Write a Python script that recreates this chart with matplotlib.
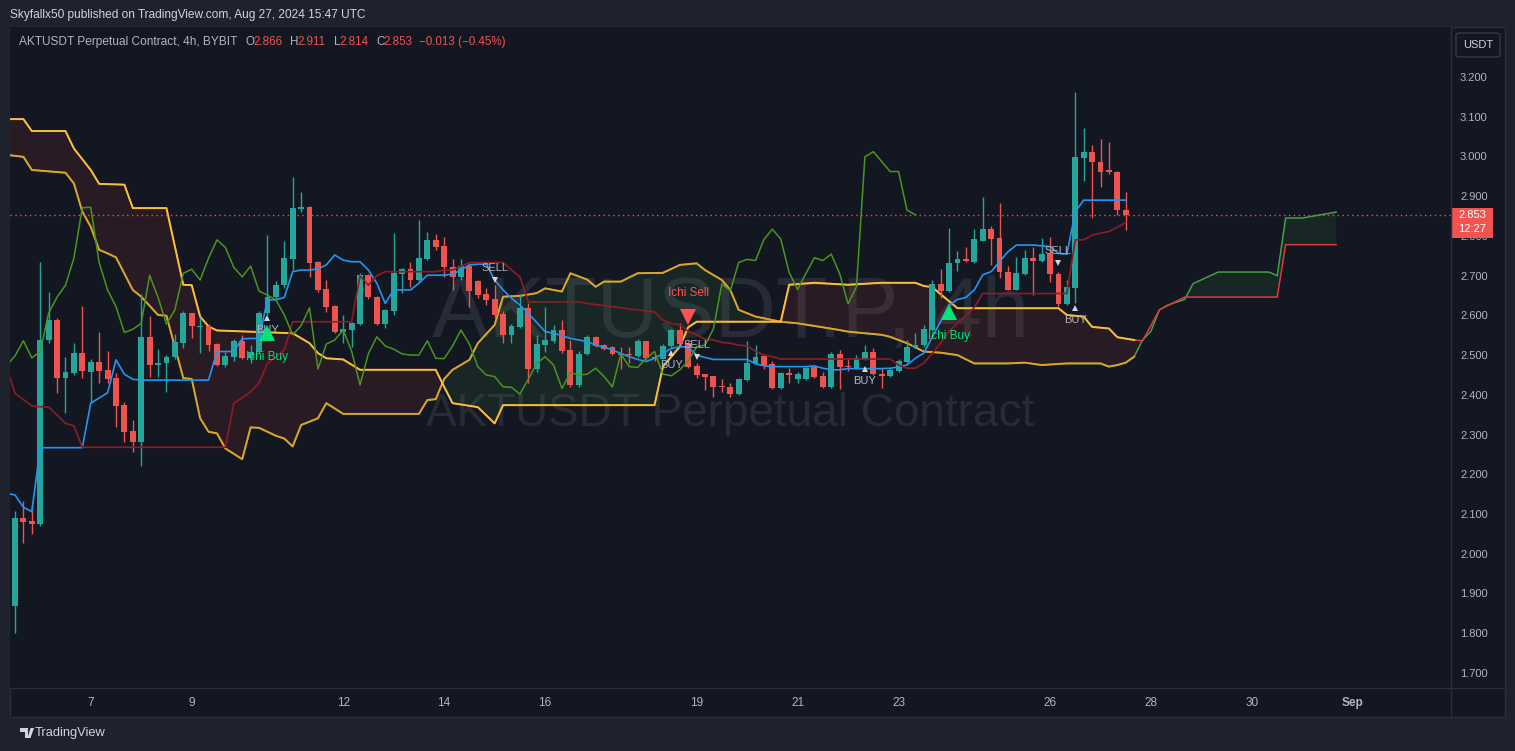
import matplotlib
matplotlib.use("Agg")
import matplotlib.pyplot as plt
import numpy as np
from matplotlib.patches import Rectangle, FancyBboxPatch, Polygon
from matplotlib.lines import Line2D
import matplotlib.transforms as mtransforms

plt.rcParams['font.family'] = ['Liberation Sans', 'DejaVu Sans']

# ---------------- data (AKTUSDT.P 4h, first candle Aug 5 12:00) ----------------
opens = [1.869, 2.089, 2.083, 2.076, 2.537, 2.588, 2.443, 2.455, 2.505, 2.457,
         2.483, 2.462, 2.442, 2.374, 2.309, 2.282, 2.546, 2.474, 2.479, 2.494,
         2.530, 2.606, 2.571, 2.573, 2.528, 2.474, 2.496, 2.536, 2.492, 2.509,
         2.606, 2.645, 2.676, 2.742, 2.868, 2.874, 2.735, 2.666, 2.624, 2.557,
         2.563, 2.578, 2.701, 2.645, 2.578, 2.612, 2.705, 2.716, 2.689, 2.741,
         2.790, 2.775, 2.721, 2.697, 2.724, 2.687, 2.654, 2.641, 2.604, 2.551,
         2.570, 2.619, 2.465, 2.525, 2.536, 2.563, 2.513, 2.425, 2.504, 2.545,
         2.525, 2.520, 2.504, 2.504, 2.498, 2.536, 2.496, 2.491, 2.523, 2.563,
         2.530, 2.473, 2.452, 2.447, 2.422, 2.419, 2.402, 2.437, 2.479, 2.498,
         2.478, 2.416, 2.456, 2.439, 2.439, 2.469, 2.447, 2.420, 2.503, 2.473,
         2.468, 2.490, 2.509, 2.452, 2.448, 2.460, 2.483, 2.521, 2.525, 2.563,
         2.679, 2.662, 2.731, 2.741, 2.735, 2.788, 2.817, 2.794, 2.708, 2.665,
         2.704, 2.745, 2.738, 2.754, 2.705, 2.629, 2.670, 2.997, 3.012, 2.987,
         2.963, 2.962, 2.866]
highs = [2.108, 2.133, 2.123, 2.735, 2.659, 2.594, 2.495, 2.530, 2.624, 2.490,
         2.558, 2.510, 2.454, 2.383, 2.337, 2.654, 2.598, 2.515, 2.500, 2.553,
         2.611, 2.606, 2.597, 2.578, 2.530, 2.507, 2.541, 2.550, 2.525, 2.610,
         2.802, 2.686, 2.787, 2.949, 2.910, 2.876, 2.738, 2.689, 2.626, 2.601,
         2.583, 2.706, 2.705, 2.648, 2.617, 2.807, 2.720, 2.735, 2.840, 2.811,
         2.805, 2.798, 2.741, 2.741, 2.731, 2.690, 2.668, 2.676, 2.610, 2.578,
         2.655, 2.632, 2.551, 2.620, 2.576, 2.588, 2.538, 2.510, 2.551, 2.548,
         2.527, 2.523, 2.521, 2.520, 2.541, 2.536, 2.504, 2.528, 2.565, 2.580,
         2.536, 2.479, 2.452, 2.447, 2.439, 2.429, 2.442, 2.536, 2.525, 2.503,
         2.486, 2.458, 2.467, 2.458, 2.471, 2.472, 2.458, 2.507, 2.513, 2.492,
         2.500, 2.525, 2.517, 2.467, 2.465, 2.490, 2.538, 2.555, 2.576, 2.689,
         2.716, 2.819, 2.762, 2.771, 2.817, 2.898, 2.824, 2.884, 2.724, 2.748,
         2.765, 2.771, 2.794, 2.797, 2.710, 2.689, 3.161, 3.072, 3.030, 3.044,
         3.037, 2.963, 2.911]
lows = [1.800, 2.027, 2.050, 2.070, 2.530, 2.404, 2.355, 2.450, 2.443, 2.380,
        2.430, 2.430, 2.320, 2.282, 2.255, 2.220, 2.444, 2.446, 2.406, 2.490,
        2.517, 2.542, 2.505, 2.510, 2.472, 2.470, 2.486, 2.490, 2.479, 2.505,
        2.600, 2.640, 2.670, 2.714, 2.860, 2.697, 2.660, 2.609, 2.555, 2.530,
        2.521, 2.575, 2.640, 2.575, 2.568, 2.601, 2.657, 2.672, 2.685, 2.739,
        2.765, 2.697, 2.664, 2.689, 2.622, 2.643, 2.626, 2.593, 2.531, 2.531,
        2.567, 2.429, 2.458, 2.509, 2.530, 2.505, 2.420, 2.420, 2.500, 2.520,
        2.512, 2.500, 2.464, 2.481, 2.496, 2.490, 2.486, 2.489, 2.520, 2.525,
        2.468, 2.442, 2.412, 2.395, 2.408, 2.395, 2.400, 2.436, 2.477, 2.464,
        2.414, 2.414, 2.429, 2.431, 2.437, 2.442, 2.416, 2.418, 2.414, 2.460,
        2.465, 2.487, 2.450, 2.418, 2.446, 2.458, 2.481, 2.519, 2.520, 2.560,
        2.643, 2.660, 2.712, 2.735, 2.733, 2.786, 2.727, 2.695, 2.663, 2.663,
        2.702, 2.651, 2.735, 2.685, 2.622, 2.627, 2.630, 2.938, 2.844, 2.924,
        2.955, 2.853, 2.814]
closes = [2.091, 2.081, 2.076, 2.538, 2.588, 2.443, 2.457, 2.505, 2.460, 2.483,
          2.460, 2.440, 2.373, 2.307, 2.282, 2.546, 2.474, 2.480, 2.495, 2.533,
          2.606, 2.572, 2.574, 2.526, 2.474, 2.498, 2.536, 2.493, 2.509, 2.606,
          2.646, 2.676, 2.744, 2.871, 2.872, 2.733, 2.664, 2.622, 2.557, 2.565,
          2.580, 2.701, 2.645, 2.578, 2.614, 2.706, 2.716, 2.689, 2.744, 2.790,
          2.771, 2.721, 2.697, 2.724, 2.661, 2.651, 2.639, 2.601, 2.551, 2.574,
          2.619, 2.465, 2.528, 2.538, 2.563, 2.510, 2.425, 2.504, 2.546, 2.523,
          2.515, 2.503, 2.500, 2.500, 2.536, 2.492, 2.491, 2.523, 2.563, 2.528,
          2.471, 2.450, 2.446, 2.420, 2.419, 2.402, 2.439, 2.479, 2.496, 2.475,
          2.416, 2.456, 2.450, 2.452, 2.467, 2.446, 2.420, 2.503, 2.471, 2.469,
          2.492, 2.509, 2.452, 2.448, 2.463, 2.485, 2.521, 2.525, 2.566, 2.679,
          2.662, 2.733, 2.741, 2.738, 2.791, 2.817, 2.792, 2.708, 2.665, 2.706,
          2.745, 2.738, 2.754, 2.705, 2.629, 2.672, 2.999, 3.012, 2.987, 2.962,
          2.962, 2.865, 2.853]

# conversion line (blue) and base line (dark red), from bar index -1 to 132
tenkan = [2.152, 2.148, 2.117, 2.106, 2.267, 2.267, 2.267, 2.267, 2.267, 2.267,
          2.379, 2.392, 2.405, 2.488, 2.452, 2.439, 2.437, 2.437, 2.437, 2.437,
          2.437, 2.437, 2.437, 2.437, 2.437, 2.509, 2.509, 2.509, 2.541, 2.542,
          2.542, 2.639, 2.639, 2.645, 2.710, 2.714, 2.714, 2.717, 2.727, 2.752,
          2.739, 2.735, 2.735, 2.714, 2.681, 2.630, 2.664, 2.664, 2.664, 2.681,
          2.701, 2.701, 2.701, 2.704, 2.714, 2.727, 2.729, 2.729, 2.689, 2.664,
          2.643, 2.626, 2.605, 2.582, 2.559, 2.555, 2.549, 2.542, 2.538, 2.534,
          2.525, 2.520, 2.513, 2.504, 2.496, 2.489, 2.484, 2.492, 2.504, 2.517,
          2.521, 2.520, 2.500, 2.494, 2.489, 2.489, 2.489, 2.489, 2.489, 2.478,
          2.473, 2.471, 2.471, 2.471, 2.471, 2.471, 2.473, 2.467, 2.463, 2.463,
          2.466, 2.466, 2.466, 2.466, 2.466, 2.467, 2.470, 2.475, 2.492, 2.505,
          2.545, 2.585, 2.625, 2.640, 2.645, 2.664, 2.702, 2.710, 2.735, 2.760,
          2.777, 2.777, 2.777, 2.775, 2.773, 2.756, 2.754, 2.861, 2.890, 2.890,
          2.890, 2.890, 2.890, 2.890]
kijun = [2.470, 2.404, 2.388, 2.372, 2.370, 2.369, 2.349, 2.328, 2.322, 2.268,
         2.268, 2.268, 2.268, 2.268, 2.268, 2.268, 2.268, 2.268, 2.268, 2.268,
         2.268, 2.268, 2.268, 2.268, 2.268, 2.268, 2.268, 2.379, 2.392, 2.408,
         2.430, 2.479, 2.495, 2.513, 2.584, 2.584, 2.584, 2.584, 2.584, 2.584,
         2.584, 2.584, 2.699, 2.676, 2.700, 2.710, 2.710, 2.710, 2.710, 2.710,
         2.710, 2.710, 2.714, 2.714, 2.723, 2.733, 2.733, 2.733, 2.733, 2.733,
         2.714, 2.697, 2.634, 2.634, 2.634, 2.634, 2.634, 2.634, 2.634, 2.630,
         2.627, 2.625, 2.622, 2.619, 2.616, 2.614, 2.611, 2.609, 2.588, 2.580,
         2.576, 2.560, 2.551, 2.540, 2.538, 2.532, 2.530, 2.525, 2.523, 2.510,
         2.500, 2.496, 2.490, 2.490, 2.490, 2.490, 2.490, 2.490, 2.490, 2.490,
         2.490, 2.490, 2.490, 2.490, 2.490, 2.490, 2.475, 2.467, 2.467, 2.480,
         2.504, 2.530, 2.560, 2.580, 2.600, 2.620, 2.655, 2.655, 2.655, 2.655,
         2.655, 2.655, 2.655, 2.655, 2.655, 2.655, 2.655, 2.790, 2.790, 2.802,
         2.807, 2.811, 2.822, 2.834]

# leading spans (already displaced 25 bars forward), vertices (bar index, price)
spanA_idx = [-1, 1, 2, 6, 7, 8, 9, 10, 11, 12, 14, 15, 17, 18, 20, 21, 22, 23, 24, 25,
             27, 28, 29, 31, 32, 33, 34, 36, 37, 39, 48, 49, 50, 51, 52, 54, 55, 57, 58, 60,
             62, 63, 65, 66, 68, 69, 70, 72, 74, 77, 79, 81, 82, 84, 85, 86, 88, 91, 93, 96,
             98, 99, 103, 104, 106, 108, 110, 112, 114, 118, 120, 122, 125, 129, 130, 131, 132, 133, 134, 135,
             136, 137, 139, 140, 143, 149, 150, 151, 153, 157]
spanA_val = [3.004, 2.999, 2.966, 2.959, 2.932, 2.861, 2.823, 2.765, 2.756, 2.746, 2.664, 2.647, 2.601, 2.599, 2.442, 2.440, 2.341, 2.307, 2.303, 2.265,
             2.238, 2.318, 2.317, 2.297, 2.290, 2.270, 2.324, 2.341, 2.379, 2.352, 2.352, 2.387, 2.389, 2.440, 2.463, 2.488, 2.530, 2.576, 2.647, 2.649,
             2.656, 2.668, 2.660, 2.706, 2.690, 2.672, 2.685, 2.685, 2.706, 2.707, 2.727, 2.731, 2.714, 2.689, 2.664, 2.614, 2.597, 2.584, 2.580, 2.570,
             2.563, 2.559, 2.551, 2.546, 2.530, 2.509, 2.506, 2.500, 2.479, 2.479, 2.481, 2.475, 2.479, 2.479, 2.471, 2.475, 2.481, 2.496, 2.538, 2.560,
             2.614, 2.626, 2.640, 2.680, 2.709, 2.709, 2.700, 2.845, 2.845, 2.860]
spanB_idx = [-1, 1, 2, 6, 7, 9, 10, 13, 14, 18, 20, 21, 22, 23, 24, 33, 35, 36, 37, 39,
             41, 50, 51, 52, 55, 57, 58, 76, 77, 79, 80, 81, 91, 92, 95, 99, 103, 107, 108, 109,
             112, 124, 125, 127, 128, 130, 131, 133, 134, 136, 139, 150, 151, 157]
spanB_val = [3.094, 3.094, 3.064, 3.064, 3.020, 2.966, 2.931, 2.929, 2.870, 2.870, 2.677, 2.676, 2.597, 2.572, 2.562, 2.555, 2.530, 2.505, 2.492, 2.489,
             2.463, 2.463, 2.420, 2.379, 2.369, 2.328, 2.374, 2.374, 2.471, 2.521, 2.570, 2.584, 2.584, 2.677, 2.682, 2.677, 2.682, 2.682, 2.674, 2.671,
             2.618, 2.618, 2.601, 2.597, 2.571, 2.567, 2.545, 2.538, 2.536, 2.614, 2.646, 2.646, 2.778, 2.778]
chikou_shift = 25

# signals
ichi_buy_idx = [30, 111]
ichi_buy_price = [2.556, 2.608]
ichi_sell_idx = [80]
ichi_sell_price = [2.596]
buy_idx = [30, 78, 101, 126]
buy_price = [2.593, 2.505, 2.464, 2.619]
sell_idx = [57, 81, 124]
sell_price = [2.689, 2.496, 2.733]

price_ticks = [1.7, 1.8, 1.9, 2.0, 2.1, 2.2, 2.3, 2.4, 2.5, 2.6, 2.7, 2.8, 2.9, 3.0, 3.1, 3.2]
day_nums = [7, 9, 12, 14, 16, 19, 21, 23, 26, 28, 30, 32]
day_labels = ['7', '9', '12', '14', '16', '19', '21', '23', '26', '28', '30', 'Sep']
first_day, first_hour = 5, 12  # first bar: Aug 5 12:00, 6 bars per day

# ---------------- figure ----------------
W, H = 1515, 751
fig = plt.figure(figsize=(W / 100, H / 100), dpi=100)
BG_OUT = '#1e222d'
BG = '#131722'
GRID = '#2a2e39'
TXT = '#b2b5be'
UP = '#26a69a'
DN = '#ef5350'
fig.patch.set_facecolor(BG_OUT)


def fx(px):
    return px / W


def fy(py):
    return 1 - py / H


fig.add_artist(Rectangle((fx(10), fy(717)), (1505 - 10) / W, (717 - 27) / H,
                         transform=fig.transFigure, facecolor=BG, edgecolor=GRID,
                         lw=1, zorder=-5))

ax = fig.add_axes([fx(10), fy(688), (1451 - 10) / W, (688 - 27) / H])
ax.set_facecolor(BG)
ax.set_xlim(-0.594, 170.65)
ax.set_ylim(1.6621, 3.3258)
for s in ax.spines.values():
    s.set_visible(False)

# watermark
ax.text(0.5, 0.565, 'AKTUSDT.P, 4h', transform=ax.transAxes, ha='center', va='center',
        fontsize=61, color='#272b36', zorder=0.5)
ax.text(0.5, 0.414, 'AKTUSDT Perpetual Contract', transform=ax.transAxes, ha='center',
        va='center', fontsize=33, color='#272b36', zorder=0.5)

# cloud fill
grid = np.linspace(-1, 157, 3161)
a = np.interp(grid, spanA_idx, spanA_val)
b = np.interp(grid, spanB_idx, spanB_val)
ax.fill_between(grid, a, b, where=a >= b, interpolate=True, color='#4caf50', alpha=0.10, lw=0, zorder=1)
ax.fill_between(grid, a, b, where=a < b, interpolate=True, color='#f44336', alpha=0.10, lw=0, zorder=1)

# future spans (green / red) and historical overlay (orange / yellow)
ax.plot(spanA_idx, spanA_val, color='#43a047', lw=1.1, zorder=2)
ax.plot(spanB_idx, spanB_val, color='#e0393e', lw=1.1, zorder=2)
last = len(closes) - 1
ia = [k for k, v in enumerate(spanA_idx) if v <= last + 1]
ib = [k for k, v in enumerate(spanB_idx) if v <= last + 1]
ax.plot([spanA_idx[k] for k in ia], [spanA_val[k] for k in ia], color='#e0a12a', lw=1.4, zorder=2.2)
ax.plot([spanB_idx[k] for k in ib], [spanB_val[k] for k in ib], color='#f5c236', lw=1.4, zorder=2.2)

# candles
idx = np.arange(len(closes))
o = np.array(opens); h = np.array(highs); l = np.array(lows); c = np.array(closes)
cols = [UP if cc >= oo else DN for oo, cc in zip(o, c)]
ax.vlines(idx, l, h, colors=cols, lw=1.0, zorder=3)
body_lo = np.minimum(o, c)
body_h = np.maximum(np.abs(c - o), 0.003)
ax.bar(idx, body_h, bottom=body_lo, width=0.7, color=cols, lw=0, zorder=3.1)

# ichimoku lines
xl = np.arange(len(tenkan)) - 1
ax.plot(xl, tenkan, color='#2196f3', lw=1.2, zorder=4)
xk = np.arange(len(kijun)) - 1
ax.plot(xk, kijun, color='#8e1c24', lw=1.2, zorder=4)
ch_start = chikou_shift - 1
ax.plot(np.arange(ch_start, len(closes)) - chikou_shift, closes[ch_start:], color='#4a951e', lw=1.1, zorder=4)

# last price line
ax.axhline(closes[-1], color=DN, lw=1.0, ls=(0, (1, 2.5)), zorder=4.5)

# signals
ax.plot(ichi_buy_idx, ichi_buy_price, ls='none', marker='^', ms=11.5, color='#00e676', mew=0, zorder=6)
ax.plot(ichi_sell_idx, ichi_sell_price, ls='none', marker='v', ms=11.5, color='#ff5252', mew=0, zorder=6)
for xi, yi in zip(ichi_buy_idx, ichi_buy_price):
    ax.annotate('Ichi Buy', (xi, yi), xytext=(0, -17.5), textcoords='offset points',
                ha='center', va='center', fontsize=8.5, color='#00e676', zorder=7)
for xi, yi in zip(ichi_sell_idx, ichi_sell_price):
    ax.annotate('Ichi Sell', (xi, yi), xytext=(0, 17.5), textcoords='offset points',
                ha='center', va='center', fontsize=8.5, color='#ff5252', zorder=7)
ax.plot(buy_idx, buy_price, ls='none', marker='^', ms=5, color='#d1d4dc', mew=0, zorder=5.5)
ax.plot(sell_idx, sell_price, ls='none', marker='v', ms=5, color='#d1d4dc', mew=0, zorder=5.5)
for xi, yi in zip(buy_idx, buy_price):
    ax.annotate('BUY', (xi, yi), xytext=(0, -8.5), textcoords='offset points',
                ha='center', va='center', fontsize=8, color=TXT, zorder=5.6)
for xi, yi in zip(sell_idx, sell_price):
    ax.annotate('SELL', (xi, yi), xytext=(0, 8.5), textcoords='offset points',
                ha='center', va='center', fontsize=8, color=TXT, zorder=5.6)

# axes ticks
ax.set_yticks(price_ticks)
ax.set_yticklabels([f'{v:.3f}' for v in price_ticks])
ax.yaxis.tick_right()
ax.tick_params(axis='y', length=0, pad=6.5, labelsize=8, labelcolor=TXT)
tick_idx = [(d - first_day) * 6 - first_hour // 4 for d in day_nums]
ax.set_xticks(tick_idx)
ax.set_xticklabels(day_labels)
ax.tick_params(axis='x', length=0, pad=6.5, labelsize=8.5, labelcolor=TXT)
ax.get_xticklabels()[-1].set_fontweight('bold')

# current price tag
bt = mtransforms.blended_transform_factory(ax.transAxes, ax.transData)
px_per_price = (688 - 27) / (3.3258 - 1.6621)
ax.add_patch(Rectangle((1.0 + 1 / 1441, closes[-1] - 23 / px_per_price), 41 / 1441, 30 / px_per_price,
                       transform=bt, facecolor='#f05350', edgecolor='none', clip_on=False, zorder=10))
ax.text(1.0 + 21 / 1441, closes[-1], f'{closes[-1]:.3f}', transform=bt, ha='center', va='center',
        fontsize=8, color='white', clip_on=False, zorder=11)
ax.text(1.0 + 21 / 1441, closes[-1] - 14 / px_per_price, '12:27', transform=bt, ha='center',
        va='center', fontsize=8, color='white', clip_on=False, zorder=11)

# frame lines
fig.add_artist(Line2D([fx(10), fx(1505)], [fy(688), fy(688)], transform=fig.transFigure, color=GRID, lw=1))
fig.add_artist(Line2D([fx(1451), fx(1451)], [fy(27), fy(717)], transform=fig.transFigure, color=GRID, lw=1))

# USDT box
fig.add_artist(FancyBboxPatch((fx(1456), fy(57)), 44 / W, 24 / H, boxstyle='round,pad=0,rounding_size=0.003',
                              transform=fig.transFigure, facecolor=BG, edgecolor='#363a45', lw=1))
fig.text(fx(1478), fy(45), 'USDT', ha='center', va='center', fontsize=8, color='#d1d4dc')

# header texts
fig.text(fx(10), fy(15), 'Skyfallx50 published on TradingView.com, Aug 27, 2024 15:47 UTC',
         ha='left', va='center', fontsize=8.6, color='#d1d4dc')
hy = fy(42)
fig.text(fx(19), hy, 'AKTUSDT Perpetual Contract, 4h, BYBIT', ha='left', va='center', fontsize=8.6, color=TXT)
for xp, s, col in [(245.5, 'O', TXT), (253, f'{opens[-1]:.3f}', DN), (290, 'H', TXT), (297.5, f'{highs[-1]:.3f}', DN),
                   (334, 'L', TXT), (339.5, f'{lows[-1]:.3f}', DN), (376, 'C', TXT), (383, f'{closes[-1]:.3f}', DN),
                   (419, '\u22120.013 (\u22120.45%)', DN)]:
    fig.text(fx(xp), hy, s, ha='left', va='center', fontsize=8.4, color=col)

# footer logo + text
fig.add_artist(Polygon([[fx(20), fy(728)], [fx(28), fy(728)], [fx(28), fy(738)], [fx(24.5), fy(738)],
                        [fx(24.5), fy(731.5)], [fx(20), fy(731.5)]], closed=True, transform=fig.transFigure,
                       facecolor='#d1d4dc', edgecolor='none'))
fig.add_artist(Polygon([[fx(30.5), fy(728)], [fx(34), fy(728)], [fx(30.5), fy(738)], [fx(27.5), fy(738)]],
                       closed=True, transform=fig.transFigure, facecolor='#d1d4dc', edgecolor='none'))
fig.text(fx(35), fy(733), 'TradingView', ha='left', va='center', fontsize=9.3, color='#d1d4dc')

fig.savefig('out.png', dpi=100, facecolor=fig.get_facecolor())
